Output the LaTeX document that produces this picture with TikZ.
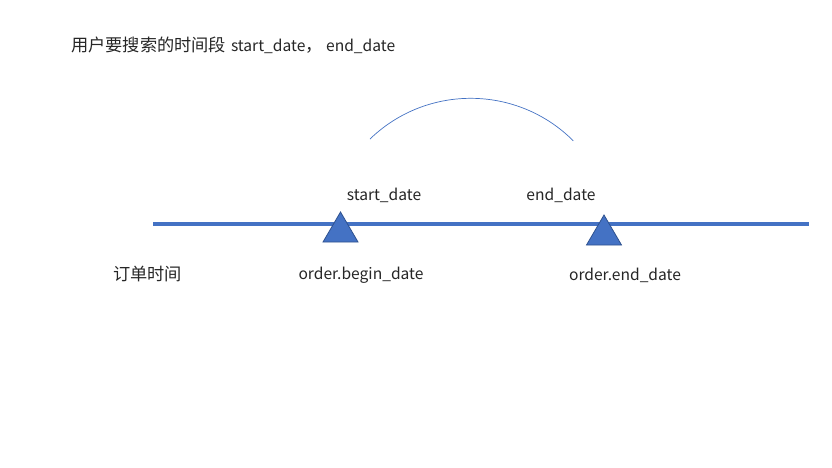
\documentclass[tikz,border=0pt]{standalone}
\usepackage{fontspec}
\setmainfont{Noto Sans CJK SC}
\newcommand{\zhbig}{\fontsize{17.2}{18}\selectfont}
\begin{document}
\begin{tikzpicture}[x=1pt,y=-1pt,
  lbl/.style={font=\fontsize{15.6}{18}\selectfont, text=black!85, inner sep=0pt},
  tri/.style={fill=tblue, draw=tdark, line width=0.8pt},
  axis/.style={draw=tblue, line width=3.5pt},
  bow/.style={draw=tblue, line width=0.7pt}]
\definecolor{tblue}{HTML}{4472C4}
\definecolor{tdark}{HTML}{2F528F}
\useasboundingbox (0,0) rectangle (832,467);
\fill[white] (0,0) rectangle (832,467);
% title
\node[lbl, anchor=west] (title) at (71,45) {{\zhbig 用户要搜索的时间段}\hspace{5pt}start\_date{\zhbig ，}\hspace{3.5pt}end\_date};
% axis
\coordinate (ax1) at (153,224);
\coordinate (ax2) at (809,224);
\draw[axis] (ax1) -- (ax2);
% triangles
\path[tri] (340.5,212) -- (358,242) -- (323,242) -- cycle;
\path[tri] (604,215) -- (621.5,245) -- (586.5,245) -- cycle;
% arc
\coordinate (a1) at (370,139);
\draw[bow] (a1) arc[start angle=-134, end angle=-45, radius=145];
% labels
\node[lbl] (sd) at (384,195) {start\_date};
\node[lbl] (ed) at (561,195) {end\_date};
\node[lbl, anchor=west] (ot) at (113,274) {\zhbig 订单时间};
\node[lbl] (obd) at (361,275) {order.begin\_date};
\node[lbl] (oed) at (625,275) {order.end\_date};
\end{tikzpicture}
\end{document}
